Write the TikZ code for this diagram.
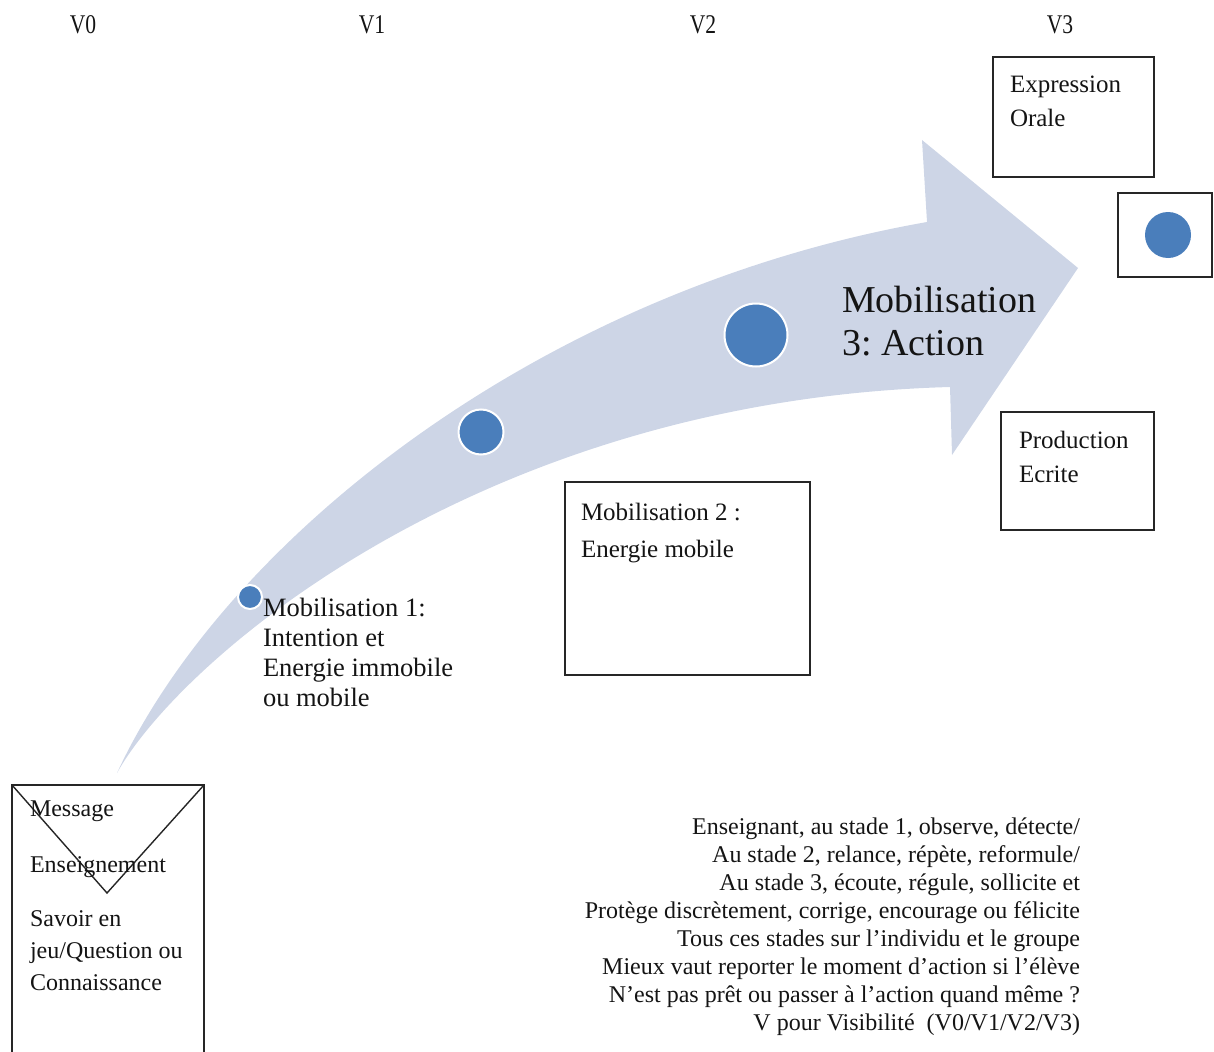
\documentclass[tikz,border=0pt]{standalone}
\usepackage{fontspec}
\usepackage{graphicx}
\setmainfont{Liberation Serif}
\frenchspacing
\newcommand{\setfs}[2]{\fontsize{#1}{#2}\selectfont}
\definecolor{bandblue}{RGB}{205,213,230}
\definecolor{dotblue}{RGB}{74,126,187}
\definecolor{inkgray}{RGB}{20,20,20}
\begin{document}
\begin{tikzpicture}[x=1pt,y=-1pt,
  every node/.style={inner sep=0pt, outer sep=0pt, text=inkgray},
  frame/.style={draw=black!85, line width=1.6pt, rectangle},
  dot/.style={circle, fill=dotblue, draw=white, line width=2pt},
  vlabel/.style={font=\setfs{27}{30}},
  boxtext/.style={anchor=base west, font=\setfs{25}{30}},
]
\useasboundingbox (0,0) rectangle (1214,1051);
\clip (0,0) rectangle (1214,1051);

% curved arrow band
\fill[bandblue] (117,773) .. controls (225,540) and (540,290) .. (927,222)
  -- (922,140) -- (1078,268) -- (952,455) -- (950,387)
  .. controls (480,400) and (180,660) .. (117,773) -- cycle;

% stage markers along the arrow
\node[dot, minimum size=24pt] (d1) at (250,597) {};
\node[dot, minimum size=45pt] (d2) at (481,432) {};
\node[dot, minimum size=63pt] (d3) at (756,335) {};

% column headings
\node[vlabel] (v0) at (83,25) {\scalebox{0.8}[1]{V0}};
\node[vlabel] (v1) at (372,25) {\scalebox{0.8}[1]{V1}};
\node[vlabel] (v2) at (703,25) {\scalebox{0.8}[1]{V2}};
\node[vlabel] (v3) at (1060,25) {\scalebox{0.8}[1]{V3}};

% stage labels
\node[anchor=north west, align=left, font=\setfs{26.5}{30}] (m1) at (263,598)
  {Mobilisation 1:\\Intention et\\Energie immobile\\ou mobile};
\node[anchor=north west, align=left, font=\setfs{38}{43}] (m3) at (842,286)
  {Mobilisation\\3: Action};

% boxes
\node[frame, minimum width=245pt, minimum height=193pt] (b2) at (687.5,578.5) {};
\node[boxtext] (b2t1) at (581,520) {Mobilisation 2 :};
\node[boxtext] (b2t2) at (581,557) {Energie mobile};

\node[frame, minimum width=161pt, minimum height=120pt] (bo) at (1073.5,117) {};
\node[boxtext] (bot1) at (1010,93) {Expression};
\node[boxtext] (bot2) at (1010,127) {Orale};

\node[frame, minimum width=94pt, minimum height=84pt] (bd) at (1165,235) {};
\node[circle, fill=dotblue, minimum size=46pt] (d4) at (1168,235) {};

\node[frame, minimum width=153pt, minimum height=118pt] (be) at (1077.5,471) {};
\node[boxtext] (bet1) at (1019,448) {Production};
\node[boxtext] (bet2) at (1019,482) {Ecrite};

% envelope card
\node[frame, minimum width=192pt, minimum height=290pt] (env) at (108,930) {};
\coordinate (envv) at (107,893);
\draw[black!85, line width=1.4pt] (env.north west) -- (envv) -- (env.north east);
\node[boxtext, font=\setfs{24}{30}] (e1) at (30,816) {Message};
\node[boxtext, font=\setfs{24}{30}] (e2) at (30,872) {Enseignement};
\node[anchor=north west, align=left, font=\setfs{24}{32}] (e3) at (30,911)
  {Savoir en\\jeu/Question ou\\Connaissance};

% notes
\node[anchor=north east, align=right, font=\setfs{24}{28}] (notes) at (1080,818)
  {Enseignant, au stade 1, observe, détecte/\\
   Au stade 2, relance, répète, reformule/\\
   Au stade 3, écoute, régule, sollicite et\\
   Protège discrètement, corrige, encourage ou félicite\\
   Tous ces stades sur l’individu et le groupe\\
   Mieux vaut reporter le moment d’action si l’élève\\
   N’est pas prêt ou passer à l’action quand même ?\\
   V pour Visibilité\ \ (V0/V1/V2/V3)};
\end{tikzpicture}
\end{document}
